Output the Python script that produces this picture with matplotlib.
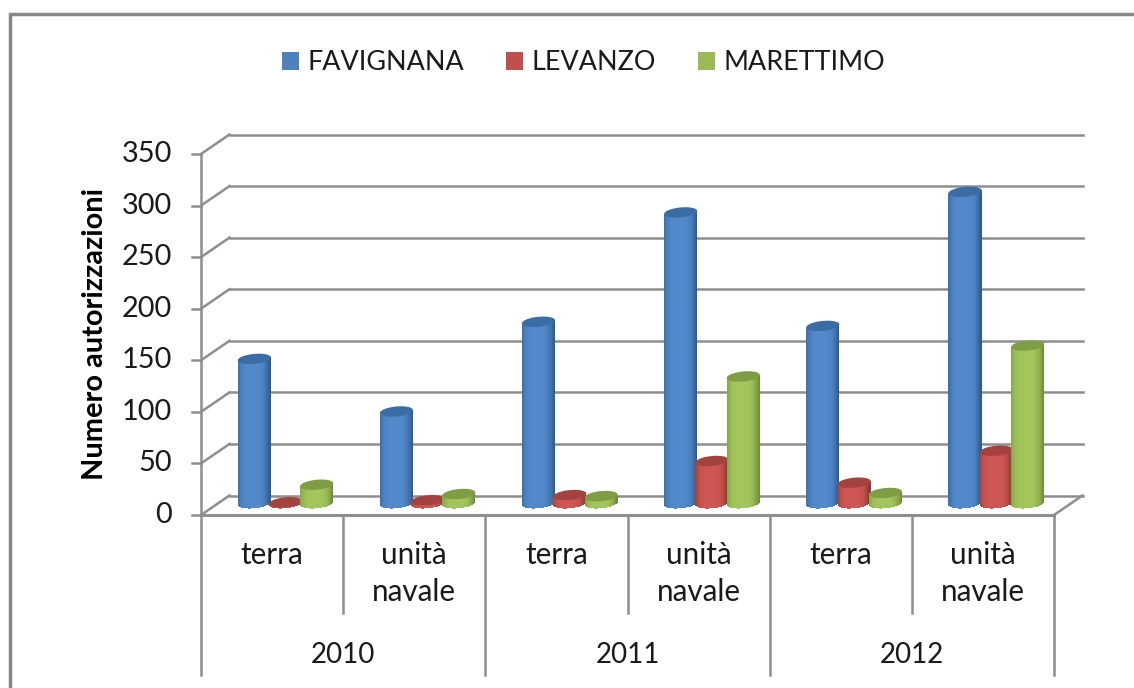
import numpy as np
import matplotlib
matplotlib.use('Agg')
import matplotlib.pyplot as plt
from matplotlib.patches import Patch, Rectangle

plt.rcParams['font.family'] = ['Lato', 'DejaVu Sans']

# --- dati ---
anni = ['2010', '2011', '2012']
categorie = ['terra', 'unità\nnavale'] * 3
serie = ['FAVIGNANA', 'LEVANZO', 'MARETTIMO']
favignana = [140, 89, 176, 282, 172, 302]
levanzo = [1, 3, 8, 41, 20, 51]
marettimo = [18, 9, 7, 123, 10, 153]
valori = [favignana, levanzo, marettimo]
yticks = [0, 50, 100, 150, 200, 250, 300, 350]

colori_base = ['#5289CB', '#CE5653', '#A2C65C']
colori_bordo = ['#2C5A8E', '#8B3431', '#6E8A3A']
colori_top = ['#3C6CA4', '#A34340', '#7F9D45']
colori_legenda = ['#4F81BD', '#C0504D', '#9BBB59']
GRIGIO = '#8E8E8E'

W, H = 1134, 688
fig = plt.figure(figsize=(W / 100, H / 100), dpi=100)
# l'asse e' il piano frontale del grafico 3D
ax = fig.add_axes([201 / W, 1 - 515 / H, 853 / W, 361 / H])
ax.set_xlim(0, 6)
ax.set_ylim(0, 350)
ax.axis('off')

px_x = 853 / 6      # pixel per unita' x
px_y = 361 / 350    # pixel per unita' y
dx = 28.5 / px_x    # profondita'
dy = 19.5 / px_y

# cornice esterna (solo lati sinistro e superiore sono visibili)
fig.add_artist(Rectangle((9.5 / W, -0.1), 1.2, 1.1 - 14 / H, transform=fig.transFigure,
                         fill=False, edgecolor='#878787', linewidth=2.5))

# griglia sul fondo e pavimento
for v in yticks:
    ax.plot([dx, 6 + dx], [v + dy, v + dy], color=GRIGIO, lw=1.8, clip_on=False, zorder=1)
    ax.plot([0, dx], [v, v + dy], color=GRIGIO, lw=1.8, clip_on=False, zorder=1)
    ax.plot([-9 / px_x, 0], [v, v], color=GRIGIO, lw=1.8, clip_on=False, zorder=1)
    ax.text(-29 / px_x, v, str(v), ha='right', va='center', fontsize=20.8, color='#1a1a1a')
ax.plot([0, 0], [0, 350], color=GRIGIO, lw=1.8, clip_on=False, zorder=1)
ax.plot([0, 6], [0, 0], color=GRIGIO, lw=2.2, clip_on=False, zorder=1)
ax.plot([6, 6 + dx], [0, dy], color=GRIGIO, lw=1.8, clip_on=False, zorder=1)

# cilindri
larghezza = 33 / px_x
b = 5 / px_y        # semiasse verticale ellisse
tilt = 1.5 / px_y   # inclinazione ellisse
N = 30
u = (np.arange(N) + 0.5) / N * 2 - 1
base = 0.6 * dy
for k in range(3):
    c_base = np.array(matplotlib.colors.to_rgb(colori_base[k]))
    c_bordo = np.array(matplotlib.colors.to_rgb(colori_bordo[k]))
    for i in range(6):
        xc = i + 0.5 + (k - 1) * 0.22 + 0.47 * dx
        v = valori[k][i]
        for uu in u:
            sh = np.clip(1 - ((uu + 0.1) / 1.1) ** 4, 0, 1) ** 1.5
            col = c_bordo + (c_base - c_bordo) * sh
            low = base - b * np.sqrt(1 - uu ** 2) + tilt * uu
            high = base + v + tilt * uu
            ax.bar(xc + uu * larghezza / 2, high - low, bottom=low, width=larghezza / N * 1.1,
                   color=col, linewidth=0, zorder=3 + k + i * 0.01, clip_on=False)
        t = np.linspace(0, 2 * np.pi, 60)
        ax.fill(xc + np.cos(t) * larghezza / 2, base + v + b * np.sin(t) + tilt * np.cos(t),
                color=colori_top[k], linewidth=0, zorder=3.005 + k + i * 0.01, clip_on=False)

# asse categorie: due livelli
for i in range(7):
    lungo = i % 2 == 0
    fondo = -160 / px_y if lungo else -98 / px_y
    ax.plot([i, i], [0, fondo], color=GRIGIO, lw=1.8, clip_on=False, zorder=1)
for i, cat in enumerate(categorie):
    ax.text(i + 0.5, -26 / px_y, cat, ha='center', va='top', fontsize=21.3, color='#1a1a1a',
            linespacing=1.4)
for i, anno in enumerate(anni):
    ax.text(2 * i + 1, -140 / px_y, anno, ha='center', va='center', fontsize=20, color='#1a1a1a')

ax.text(-106 / px_x, 175 + 1 / px_y, 'Numero autorizzazioni', rotation=90, ha='center', va='center',
        fontsize=20.9, fontweight='bold', color='black')

# legenda
handles = [Patch(facecolor=c, edgecolor='none') for c in colori_legenda]
fig.legend(handles, serie, ncol=3, loc='center', bbox_to_anchor=(583.5 / W, 1 - 63 / H), frameon=False,
           fontsize=19.4, handlelength=0.63, handleheight=0.63, handletextpad=0.33, columnspacing=1.55,
           labelcolor='#1a1a1a')

plt.savefig('out.png', dpi=100)
